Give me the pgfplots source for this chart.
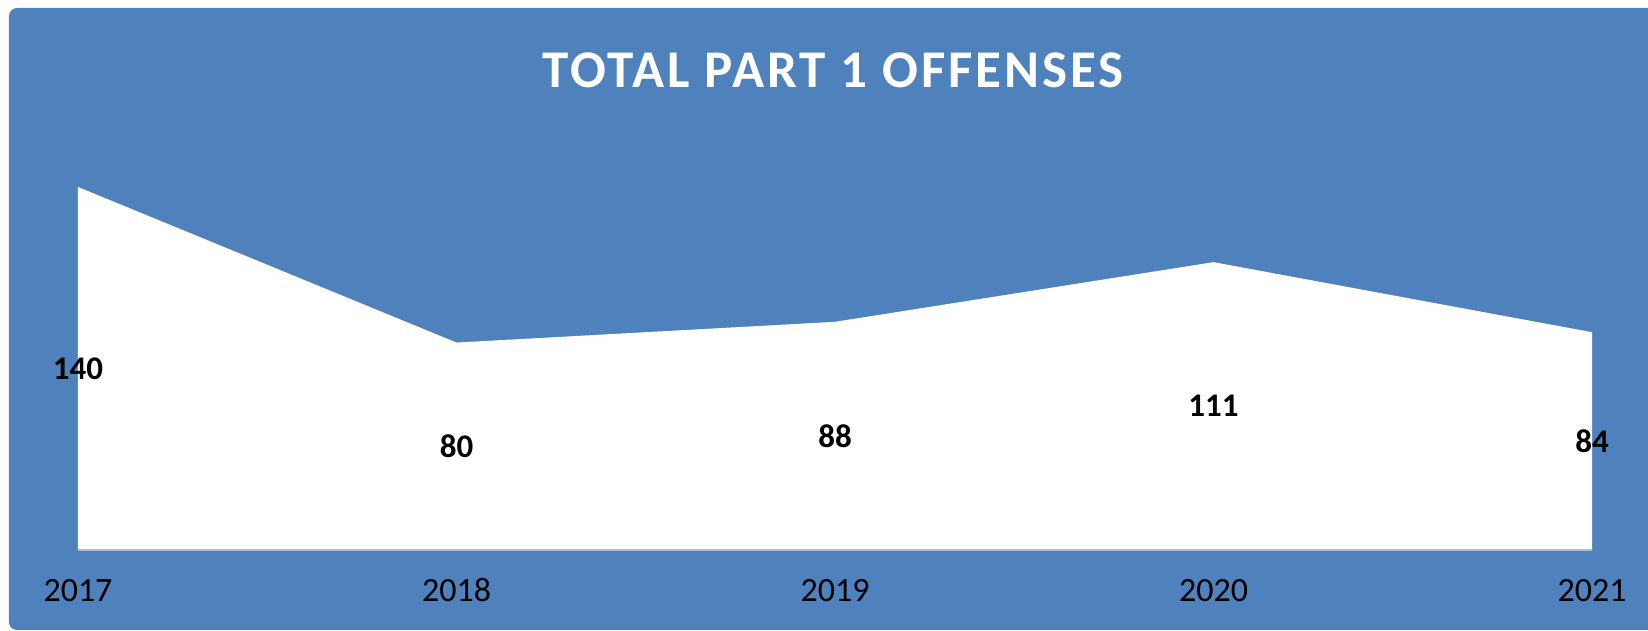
\documentclass[border=0pt]{standalone}
\usepackage{fontspec}
\setmainfont{Carlito}
\usepackage{pgfplots}
\pgfplotsset{compat=1.18}
\usepackage{pgfplotstable}

\definecolor{bgblue}{RGB}{79,129,189}
\definecolor{axisline}{RGB}{170,192,222}

% year, value, half of value (label position)
\pgfplotstableread{
year val half
2017 140 70
2018 80 40
2019 88 44
2020 111 55.5
2021 84 42
}\offenses

\begin{document}
\begin{tikzpicture}[x=1pt,y=1pt]
% chart background
\fill[bgblue, rounded corners=8pt] (-69,-80) rectangle (1620,542);

\begin{axis}[
    at={(0,0)}, anchor=south west,
    scale only axis, width=1514pt, height=518.6pt,
    xmin=2017, xmax=2021, ymin=0, ymax=200,
    clip=false,
    axis line style={draw=none},
    tick style={draw=none},
    ytick=\empty,
    xtick={2017,2018,2019,2020,2021},
    xticklabels={2017,2018,2019,2020,2021},
    xticklabel style={font=\fontsize{34}{38}\selectfont, text=black,
        anchor=base, inner sep=0pt, yshift=-52pt},
]
\addplot[fill=white, draw=none] table[x=year, y=val] {\offenses} \closedcycle;
\draw[axisline, line width=1.5pt] (axis cs:2017,0) -- (axis cs:2021,0);
\addplot[draw=none, mark=none, nodes near coords, point meta=explicit symbolic,
    nodes near coords style={font=\bfseries\fontsize{33}{36}\selectfont,
        text=black, anchor=center, inner sep=0pt}]
    table[x=year, y=half, meta=val] {\offenses};
\end{axis}

\node[text=white, font=\bfseries\fontsize{53}{60}\selectfont\addfontfeature{LetterSpace=5.5},
    inner sep=0pt]
    at (755,480) {TOTAL PART 1 OFFENSES};

\pgfresetboundingbox
\path[use as bounding box] (-78,-81) rectangle (1570,550);
\end{tikzpicture}
\end{document}
